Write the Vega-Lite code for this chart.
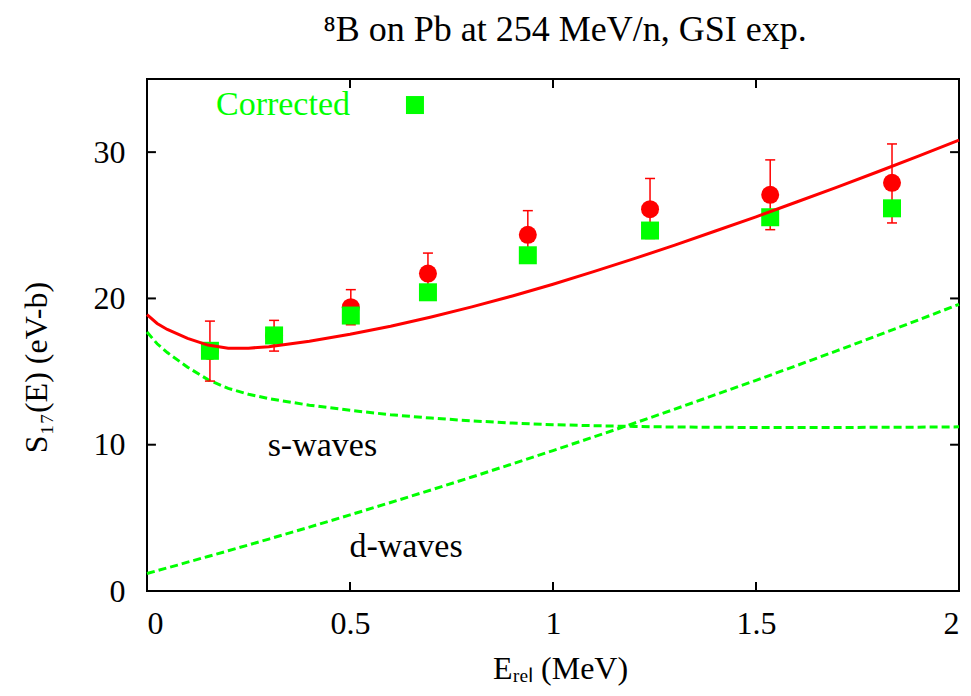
{
  "$schema": "https://vega.github.io/schema/vega-lite/v6.json",
  "width": 812,
  "height": 512,
  "autosize": {"type": "none"},
  "padding": {"left": 147, "top": 79, "right": 12, "bottom": 105},
  "background": "white",
  "config": {
    "view": {"stroke": "black", "strokeWidth": 2},
    "axis": {
      "grid": false,
      "domain": false,
      "ticks": false,
      "labelFont": "Liberation Serif",
      "labelFontSize": 32,
      "labelColor": "black",
      "titleFont": "Liberation Serif",
      "titleFontSize": 32,
      "titleFontWeight": "normal",
      "titleColor": "black"
    }
  },
  "title": {
    "text": "⁸B on Pb at 254 MeV/n, GSI exp.",
    "font": "Liberation Serif",
    "fontSize": 36,
    "fontWeight": "normal",
    "color": "black",
    "anchor": "middle",
    "baseline": "alphabetic",
    "offset": 36,
    "dx": 12,
    "dy": 35
  },
  "datasets": {
    "curves": [
      {"x": 0, "s": 17.7, "d": 1.2, "t": 18.9},
      {"x": 0.025, "s": 16.9, "d": 1.39, "t": 18.29},
      {"x": 0.05, "s": 16.3, "d": 1.58, "t": 17.88},
      {"x": 0.075, "s": 15.8, "d": 1.77, "t": 17.57},
      {"x": 0.1, "s": 15.3, "d": 1.97, "t": 17.27},
      {"x": 0.15, "s": 14.45, "d": 2.36, "t": 16.81},
      {"x": 0.2, "s": 13.85, "d": 2.75, "t": 16.6},
      {"x": 0.25, "s": 13.45, "d": 3.15, "t": 16.6},
      {"x": 0.3, "s": 13.15, "d": 3.55, "t": 16.7},
      {"x": 0.4, "s": 12.7, "d": 4.37, "t": 17.07},
      {"x": 0.5, "s": 12.35, "d": 5.2, "t": 17.55},
      {"x": 0.6, "s": 12.05, "d": 6.05, "t": 18.1},
      {"x": 0.7, "s": 11.82, "d": 6.91, "t": 18.73},
      {"x": 0.8, "s": 11.63, "d": 7.79, "t": 19.42},
      {"x": 0.9, "s": 11.48, "d": 8.69, "t": 20.17},
      {"x": 1.0, "s": 11.37, "d": 9.6, "t": 20.97},
      {"x": 1.1, "s": 11.3, "d": 10.53, "t": 21.83},
      {"x": 1.2, "s": 11.25, "d": 11.47, "t": 22.72},
      {"x": 1.3, "s": 11.21, "d": 12.43, "t": 23.64},
      {"x": 1.4, "s": 11.19, "d": 13.42, "t": 24.61},
      {"x": 1.5, "s": 11.18, "d": 14.4, "t": 25.58},
      {"x": 1.6, "s": 11.18, "d": 15.41, "t": 26.59},
      {"x": 1.7, "s": 11.18, "d": 16.43, "t": 27.61},
      {"x": 1.8, "s": 11.19, "d": 17.47, "t": 28.66},
      {"x": 1.9, "s": 11.2, "d": 18.53, "t": 29.73},
      {"x": 2.0, "s": 11.22, "d": 19.6, "t": 30.82}
    ],
    "points": [
      {"x": 0.155, "y": 16.4, "lo": 14.35, "hi": 18.45, "c": 16.42},
      {"x": 0.313, "y": 17.45, "lo": 16.4, "hi": 18.5, "c": 17.47},
      {"x": 0.502, "y": 19.4, "lo": 18.2, "hi": 20.6, "c": 18.83},
      {"x": 0.692, "y": 21.7, "lo": 20.3, "hi": 23.1, "c": 20.42},
      {"x": 0.938, "y": 24.35, "lo": 22.7, "hi": 26.0, "c": 22.95},
      {"x": 1.239, "y": 26.1, "lo": 24.1, "hi": 28.2, "c": 24.64},
      {"x": 1.535, "y": 27.08, "lo": 24.7, "hi": 29.47, "c": 25.55},
      {"x": 1.835, "y": 27.9, "lo": 25.16, "hi": 30.56, "c": 26.16}
    ],
    "xticks": [{"v": 0.5}, {"v": 1}, {"v": 1.5}],
    "yticks": [{"v": 10}, {"v": 20}, {"v": 30}],
    "labels": [
      {"x": 0.432, "y": 9.23, "label": "s-waves"},
      {"x": 0.638, "y": 2.32, "label": "d-waves"}
    ],
    "legend": [
      {"x": 0.5, "y": 32.54, "kx": 0.66, "ky": 33.22, "label": "Corrected"}
    ]
  },
  "layer": [
    {
      "data": {"name": "curves"},
      "mark": {"type": "line", "color": "#00ff00", "strokeWidth": 3, "strokeDash": [8, 4]},
      "encoding": {
        "x": {"field": "x", "type": "quantitative", "scale": {"domain": [0, 2], "nice": false, "zero": false},
          "axis": {"orient": "bottom", "values": [0, 0.5, 1, 1.5, 2], "format": "~g", "labelPadding": 17,
            "title": "Eᵣₑₗ (MeV)", "titleX": 413, "titleY": 87, "titleBaseline": "alphabetic", "titleAlign": "center"}},
        "y": {"field": "s", "type": "quantitative", "scale": {"domain": [0, 35], "nice": false, "zero": false},
          "axis": {"orient": "left", "values": [0, 10, 20, 30], "labelPadding": 22,
            "title": "S₁₇(E) (eV-b)", "titleX": -101, "titleY": 288, "titleAngle": -90, "titleBaseline": "alphabetic", "titleAlign": "center"}}
      }
    },
    {
      "data": {"name": "curves"},
      "mark": {"type": "line", "color": "#00ff00", "strokeWidth": 3, "strokeDash": [8, 4]},
      "encoding": {
        "x": {"field": "x", "type": "quantitative", "scale": {"domain": [0, 2], "nice": false, "zero": false}, "axis": null},
        "y": {"field": "d", "type": "quantitative", "scale": {"domain": [0, 35], "nice": false, "zero": false}, "axis": null}
      }
    },
    {
      "data": {"name": "xticks"},
      "mark": {"type": "rule", "color": "black", "strokeWidth": 2},
      "encoding": {
        "x": {"field": "v", "type": "quantitative", "scale": {"domain": [0, 2], "nice": false, "zero": false}, "axis": null},
        "y": {"datum": 0, "type": "quantitative", "scale": {"domain": [0, 35], "nice": false, "zero": false}, "axis": null},
        "y2": {"datum": 0.62}
      }
    },
    {
      "data": {"name": "xticks"},
      "mark": {"type": "rule", "color": "black", "strokeWidth": 2},
      "encoding": {
        "x": {"field": "v", "type": "quantitative", "scale": {"domain": [0, 2], "nice": false, "zero": false}, "axis": null},
        "y": {"datum": 34.38, "type": "quantitative", "scale": {"domain": [0, 35], "nice": false, "zero": false}, "axis": null},
        "y2": {"datum": 35}
      }
    },
    {
      "data": {"name": "yticks"},
      "mark": {"type": "rule", "color": "black", "strokeWidth": 2},
      "encoding": {
        "y": {"field": "v", "type": "quantitative", "scale": {"domain": [0, 35], "nice": false, "zero": false}, "axis": null},
        "x": {"datum": 0, "type": "quantitative", "scale": {"domain": [0, 2], "nice": false, "zero": false}, "axis": null},
        "x2": {"datum": 0.022}
      }
    },
    {
      "data": {"name": "yticks"},
      "mark": {"type": "rule", "color": "black", "strokeWidth": 2},
      "encoding": {
        "y": {"field": "v", "type": "quantitative", "scale": {"domain": [0, 35], "nice": false, "zero": false}, "axis": null},
        "x": {"datum": 1.978, "type": "quantitative", "scale": {"domain": [0, 2], "nice": false, "zero": false}, "axis": null},
        "x2": {"datum": 2}
      }
    },
    {
      "data": {"name": "points"},
      "mark": {"type": "point", "shape": "circle", "filled": true, "size": 324, "color": "#ff0000", "opacity": 1},
      "encoding": {
        "x": {"field": "x", "type": "quantitative", "scale": {"domain": [0, 2], "nice": false, "zero": false}, "axis": null},
        "y": {"field": "y", "type": "quantitative", "scale": {"domain": [0, 35], "nice": false, "zero": false}, "axis": null}
      }
    },
    {
      "data": {"name": "points"},
      "mark": {"type": "rule", "color": "#ff0000", "strokeWidth": 1.5},
      "encoding": {
        "x": {"field": "x", "type": "quantitative", "scale": {"domain": [0, 2], "nice": false, "zero": false}, "axis": null},
        "y": {"field": "lo", "type": "quantitative", "scale": {"domain": [0, 35], "nice": false, "zero": false}, "axis": null},
        "y2": {"field": "hi"}
      }
    },
    {
      "data": {"name": "points"},
      "mark": {"type": "tick", "orient": "horizontal", "color": "#ff0000", "size": 10, "thickness": 1.5, "opacity": 1},
      "encoding": {
        "x": {"field": "x", "type": "quantitative", "scale": {"domain": [0, 2], "nice": false, "zero": false}, "axis": null},
        "y": {"field": "hi", "type": "quantitative", "scale": {"domain": [0, 35], "nice": false, "zero": false}, "axis": null}
      }
    },
    {
      "data": {"name": "points"},
      "mark": {"type": "tick", "orient": "horizontal", "color": "#ff0000", "size": 10, "thickness": 1.5, "opacity": 1},
      "encoding": {
        "x": {"field": "x", "type": "quantitative", "scale": {"domain": [0, 2], "nice": false, "zero": false}, "axis": null},
        "y": {"field": "lo", "type": "quantitative", "scale": {"domain": [0, 35], "nice": false, "zero": false}, "axis": null}
      }
    },
    {
      "data": {"name": "points"},
      "mark": {"type": "point", "shape": "square", "filled": true, "size": 324, "color": "#00ff00", "opacity": 1},
      "encoding": {
        "x": {"field": "x", "type": "quantitative", "scale": {"domain": [0, 2], "nice": false, "zero": false}, "axis": null},
        "y": {"field": "c", "type": "quantitative", "scale": {"domain": [0, 35], "nice": false, "zero": false}, "axis": null}
      }
    },
    {
      "data": {"name": "curves"},
      "mark": {"type": "line", "color": "#ff0000", "strokeWidth": 3},
      "encoding": {
        "x": {"field": "x", "type": "quantitative", "scale": {"domain": [0, 2], "nice": false, "zero": false}, "axis": null},
        "y": {"field": "t", "type": "quantitative", "scale": {"domain": [0, 35], "nice": false, "zero": false}, "axis": null}
      }
    },
    {
      "data": {"name": "labels"},
      "mark": {"type": "text", "font": "Liberation Serif", "fontSize": 34, "color": "black", "align": "center", "baseline": "alphabetic"},
      "encoding": {
        "x": {"field": "x", "type": "quantitative", "scale": {"domain": [0, 2], "nice": false, "zero": false}, "axis": null},
        "y": {"field": "y", "type": "quantitative", "scale": {"domain": [0, 35], "nice": false, "zero": false}, "axis": null},
        "text": {"field": "label"}
      }
    },
    {
      "data": {"name": "legend"},
      "mark": {"type": "text", "font": "Liberation Serif", "fontSize": 34, "color": "#00ff00", "align": "right", "baseline": "alphabetic"},
      "encoding": {
        "x": {"field": "x", "type": "quantitative", "scale": {"domain": [0, 2], "nice": false, "zero": false}, "axis": null},
        "y": {"field": "y", "type": "quantitative", "scale": {"domain": [0, 35], "nice": false, "zero": false}, "axis": null},
        "text": {"field": "label"}
      }
    },
    {
      "data": {"name": "legend"},
      "mark": {"type": "point", "shape": "square", "filled": true, "size": 324, "color": "#00ff00", "opacity": 1},
      "encoding": {
        "x": {"field": "kx", "type": "quantitative", "scale": {"domain": [0, 2], "nice": false, "zero": false}, "axis": null},
        "y": {"field": "ky", "type": "quantitative", "scale": {"domain": [0, 35], "nice": false, "zero": false}, "axis": null}
      }
    }
  ],
  "resolve": {"axis": {"x": "independent", "y": "independent"}}
}
